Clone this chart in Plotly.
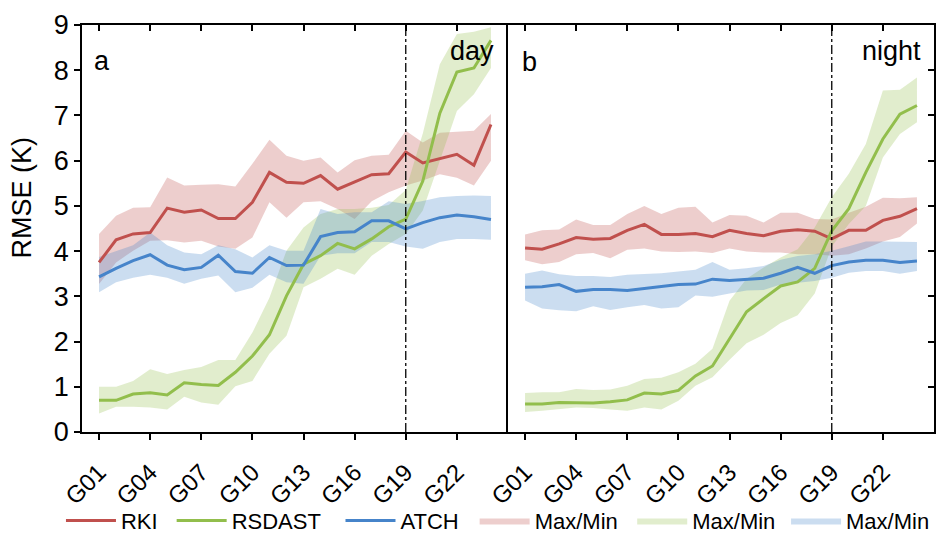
import plotly.graph_objects as go

# Station / group labels along the x axis
categories = [f"G{i:02d}" for i in range(1, 25)]
tick_labels = ["G01", "G04", "G07", "G10", "G13", "G16", "G19", "G22"]
split_label = "G19"

# ---- Daytime RMSE (K) ----
day_rki = [3.75, 4.25, 4.38, 4.41, 4.95, 4.86, 4.91, 4.72, 4.72, 5.08, 5.74, 5.52,
           5.50, 5.67, 5.37, 5.53, 5.69, 5.71, 6.19, 5.95, 6.04, 6.14, 5.90, 6.80]
day_rki_max = [4.38, 4.78, 4.96, 4.97, 5.63, 5.45, 5.47, 5.48, 5.43, 5.93, 6.46, 6.11,
               6.00, 6.07, 5.74, 6.01, 6.11, 6.13, 6.66, 6.40, 6.62, 6.64, 6.66, 7.03]
day_rki_min = [3.27, 3.75, 4.01, 4.23, 4.24, 4.19, 4.23, 4.10, 4.05, 4.30, 5.08, 4.74,
               5.08, 5.10, 4.93, 4.71, 5.10, 5.30, 5.45, 5.56, 5.70, 5.62, 5.45, 6.00]

day_rsdast = [0.70, 0.70, 0.84, 0.87, 0.82, 1.09, 1.05, 1.03, 1.32, 1.68, 2.15, 3.01,
              3.71, 3.90, 4.17, 4.05, 4.27, 4.54, 4.71, 5.55, 7.05, 7.96, 8.05, 8.66]
day_rsdast_max = [1.00, 1.00, 1.13, 1.39, 1.28, 1.37, 1.44, 1.59, 1.59, 2.20, 2.97, 4.01,
                  4.52, 4.82, 4.93, 4.93, 4.96, 5.02, 5.35, 6.60, 8.13, 8.80, 8.85, 8.95]
day_rsdast_min = [0.41, 0.56, 0.56, 0.54, 0.50, 0.78, 0.65, 0.60, 1.01, 1.13, 1.73, 2.13,
                  3.20, 3.39, 3.61, 3.48, 3.90, 4.16, 4.38, 4.90, 5.99, 7.10, 7.47, 8.05]

day_atch = [3.43, 3.62, 3.79, 3.92, 3.69, 3.59, 3.64, 3.91, 3.55, 3.51, 3.86, 3.68,
            3.69, 4.32, 4.41, 4.43, 4.67, 4.67, 4.49, 4.63, 4.74, 4.80, 4.76, 4.70]
day_atch_max = [3.87, 4.00, 4.13, 4.41, 4.13, 3.97, 3.93, 4.13, 4.04, 3.86, 4.13, 4.01,
                4.01, 4.93, 4.82, 4.86, 4.86, 5.10, 5.04, 5.11, 5.19, 5.22, 5.23, 5.22]
day_atch_min = [3.09, 3.31, 3.41, 3.48, 3.41, 3.28, 3.39, 3.46, 3.09, 3.19, 3.48, 3.31,
                3.28, 3.90, 3.95, 3.95, 4.20, 4.20, 4.10, 4.05, 4.20, 4.27, 4.27, 4.25]

# ---- Night-time RMSE (K) ----
night_rki = [4.07, 4.04, 4.16, 4.30, 4.26, 4.28, 4.46, 4.59, 4.37, 4.37, 4.39, 4.32,
             4.46, 4.39, 4.34, 4.44, 4.47, 4.44, 4.27, 4.46, 4.46, 4.68, 4.77, 4.94]
night_rki_max = [4.37, 4.46, 4.48, 4.70, 4.58, 4.58, 4.82, 5.00, 4.82, 4.96, 4.98, 4.63,
                 4.80, 4.78, 4.63, 4.85, 4.85, 4.71, 4.70, 4.85, 4.98, 5.18, 5.17, 5.19]
night_rki_min = [3.80, 3.71, 3.76, 3.93, 3.96, 3.84, 4.03, 4.06, 3.99, 3.98, 3.99, 3.96,
                 4.06, 3.99, 3.97, 3.97, 3.93, 3.93, 3.90, 3.93, 4.06, 4.21, 4.31, 4.61]

night_rsdast = [0.62, 0.62, 0.65, 0.65, 0.64, 0.67, 0.71, 0.86, 0.84, 0.92, 1.24, 1.46,
                2.05, 2.66, 2.95, 3.23, 3.32, 3.62, 4.45, 4.94, 5.74, 6.48, 7.03, 7.22]
night_rsdast_max = [0.86, 0.88, 0.88, 0.95, 0.93, 0.94, 1.02, 1.17, 1.20, 1.32, 1.51, 1.84,
                    2.90, 3.39, 3.64, 3.86, 4.04, 4.52, 5.19, 5.71, 6.37, 7.55, 7.57, 7.84]
night_rsdast_min = [0.44, 0.47, 0.50, 0.54, 0.53, 0.50, 0.47, 0.54, 0.50, 0.69, 1.02, 1.21,
                    1.60, 1.96, 2.15, 2.41, 2.58, 3.06, 4.10, 4.60, 5.00, 6.07, 6.59, 6.85]

night_atch = [3.20, 3.21, 3.26, 3.11, 3.15, 3.15, 3.13, 3.17, 3.22, 3.26, 3.27, 3.38,
              3.35, 3.38, 3.40, 3.51, 3.64, 3.51, 3.68, 3.76, 3.80, 3.80, 3.75, 3.78]
night_atch_max = [3.50, 3.57, 3.49, 3.45, 3.45, 3.43, 3.48, 3.49, 3.51, 3.55, 3.59, 3.76,
                  3.59, 3.62, 3.67, 3.81, 3.89, 3.93, 4.01, 4.11, 4.21, 4.21, 4.21, 4.20]
night_atch_min = [2.91, 2.73, 2.69, 2.67, 2.78, 2.70, 2.76, 2.81, 2.73, 2.76, 3.02, 2.99,
                  3.06, 3.13, 3.14, 3.26, 3.30, 3.34, 3.41, 3.52, 3.56, 3.56, 3.50, 3.56]

FONT = "Arial, 'Liberation Sans', sans-serif"
COLORS = {"RKI": (192, 80, 77), "RSDAST": (146, 190, 76), "ATCH": (70, 132, 202)}
BAND_ALPHA = 0.28

# one legend box per entry so the entries can be spaced along the bottom edge
LEGEND_X = {"RKI": 0.065, "RSDAST": 0.183, "ATCH": 0.363,
            "band_RKI": 0.506, "band_RSDAST": 0.674, "band_ATCH": 0.838}
legend_ids = {}
for n, key in enumerate(LEGEND_X):
    legend_ids[key] = "legend" if n == 0 else f"legend{n + 1}"

panels = [
    ("x", "y", {"RKI": (day_rki, day_rki_max, day_rki_min),
                "RSDAST": (day_rsdast, day_rsdast_max, day_rsdast_min),
                "ATCH": (day_atch, day_atch_max, day_atch_min)}),
    ("x2", "y2", {"RKI": (night_rki, night_rki_max, night_rki_min),
                  "RSDAST": (night_rsdast, night_rsdast_max, night_rsdast_min),
                  "ATCH": (night_atch, night_atch_max, night_atch_min)}),
]

fig = go.Figure()

for p, (xa, ya, series) in enumerate(panels):
    # shaded max/min envelopes underneath
    for name in series:
        mean, hi, lo = series[name]
        r, g, b = COLORS[name]
        fig.add_trace(go.Scatter(
            x=categories + categories[::-1], y=hi + lo[::-1],
            xaxis=xa, yaxis=ya, fill="toself", mode="lines",
            line=dict(width=0), fillcolor=f"rgba({r},{g},{b},{BAND_ALPHA})",
            name="Max/Min", showlegend=(p == 0), legend=legend_ids["band_" + name],
            hoverinfo="skip"))
    # mean lines on top
    for name in series:
        mean, hi, lo = series[name]
        r, g, b = COLORS[name]
        fig.add_trace(go.Scatter(
            x=categories, y=mean, xaxis=xa, yaxis=ya, mode="lines",
            line=dict(color=f"rgb({r},{g},{b})", width=3),
            name=name, showlegend=(p == 0), legend=legend_ids[name]))

# transparent carriers for the mirrored (inside-tick) frame axes
fig.add_trace(go.Scatter(x=categories, y=day_rki, xaxis="x3", yaxis="y", mode="lines",
                         line=dict(width=0), opacity=0, showlegend=False, hoverinfo="skip"))
fig.add_trace(go.Scatter(x=categories, y=night_rki, xaxis="x4", yaxis="y3", mode="lines",
                         line=dict(width=0), opacity=0, showlegend=False, hoverinfo="skip"))

x_common = dict(type="category", categoryorder="array", categoryarray=categories,
                range=[-1, 24], showgrid=False, zeroline=False, automargin=False,
                showline=True, linecolor="black", linewidth=1.5)
y_common = dict(range=[0, 9], dtick=1, showgrid=False, zeroline=False, automargin=False,
                showline=True, linecolor="black", linewidth=1.5)

bottom_x = dict(**x_common, tickmode="array", tickvals=tick_labels, ticktext=tick_labels,
                ticks="outside", ticklen=6, tickwidth=1.5, tickcolor="black",
                tickangle=-45, ticklabelstandoff=9,
                tickfont=dict(family=FONT, size=24, color="black"))
top_x = dict(**x_common, side="top", tickmode="array", tickvals=tick_labels,
             ticks="inside", ticklen=6, tickwidth=1.5, tickcolor="black",
             showticklabels=False)

legend_style = dict(orientation="h", xref="container", yref="container",
                    xanchor="left", yanchor="middle", y=0.025,
                    font=dict(family=FONT, size=22, color="black"),
                    itemwidth=50, bgcolor="rgba(0,0,0,0)")
legends = {lid: dict(**legend_style, x=LEGEND_X[key]) for key, lid in legend_ids.items()}

fig.update_layout(
    width=938, height=534,
    margin=dict(l=82, r=4, t=25, b=102),
    paper_bgcolor="white", plot_bgcolor="white",
    font=dict(family=FONT, color="black"),
    xaxis=dict(**bottom_x, domain=[0, 0.5], anchor="y"),
    xaxis2=dict(**bottom_x, domain=[0.5, 1], anchor="y2"),
    xaxis3=dict(**top_x, overlaying="x", anchor="y"),
    xaxis4=dict(**top_x, overlaying="x2", anchor="y3"),
    yaxis=dict(**y_common, anchor="x", ticks="outside", ticklen=6,
               tickwidth=1.5, tickcolor="black",
               tickfont=dict(family=FONT, size=27, color="black")),
    yaxis2=dict(**y_common, anchor="x2", showticklabels=False, ticks=""),
    yaxis3=dict(**y_common, anchor="x2", overlaying="y2", side="right",
                ticks="inside", ticklen=6, tickwidth=1.5, tickcolor="black",
                showticklabels=False),
    showlegend=True,
    **legends,
)

# y-axis caption, set a little above the axis midpoint
fig.add_annotation(xref="paper", yref="paper", x=-0.071, y=0.575, text="RMSE (K)",
                   textangle=-90, showarrow=False, xanchor="center", yanchor="middle",
                   font=dict(family=FONT, size=27, color="black"))

# dash-dot separator at G19 in both panels
for xa, ya in (("x", "y"), ("x2", "y2")):
    fig.add_shape(type="line", xref=xa, yref=f"{ya} domain", x0=split_label, x1=split_label,
                  y0=0, y1=1, line=dict(color="black", width=1.3, dash="dashdot"))

# panel labels
for xa, ya, text, xpos, ypos in (("x", "y", "a", 0.047, 0.912),
                                 ("x", "y", "day", 0.915, 0.935),
                                 ("x2", "y2", "b", 0.05, 0.908),
                                 ("x2", "y2", "night", 0.9, 0.937)):
    fig.add_annotation(xref=f"{xa} domain", yref=f"{ya} domain", x=xpos, y=ypos,
                       text=text, showarrow=False,
                       font=dict(family=FONT, size=27, color="black"),
                       xanchor="center", yanchor="middle")

fig.write_html("out.html")
